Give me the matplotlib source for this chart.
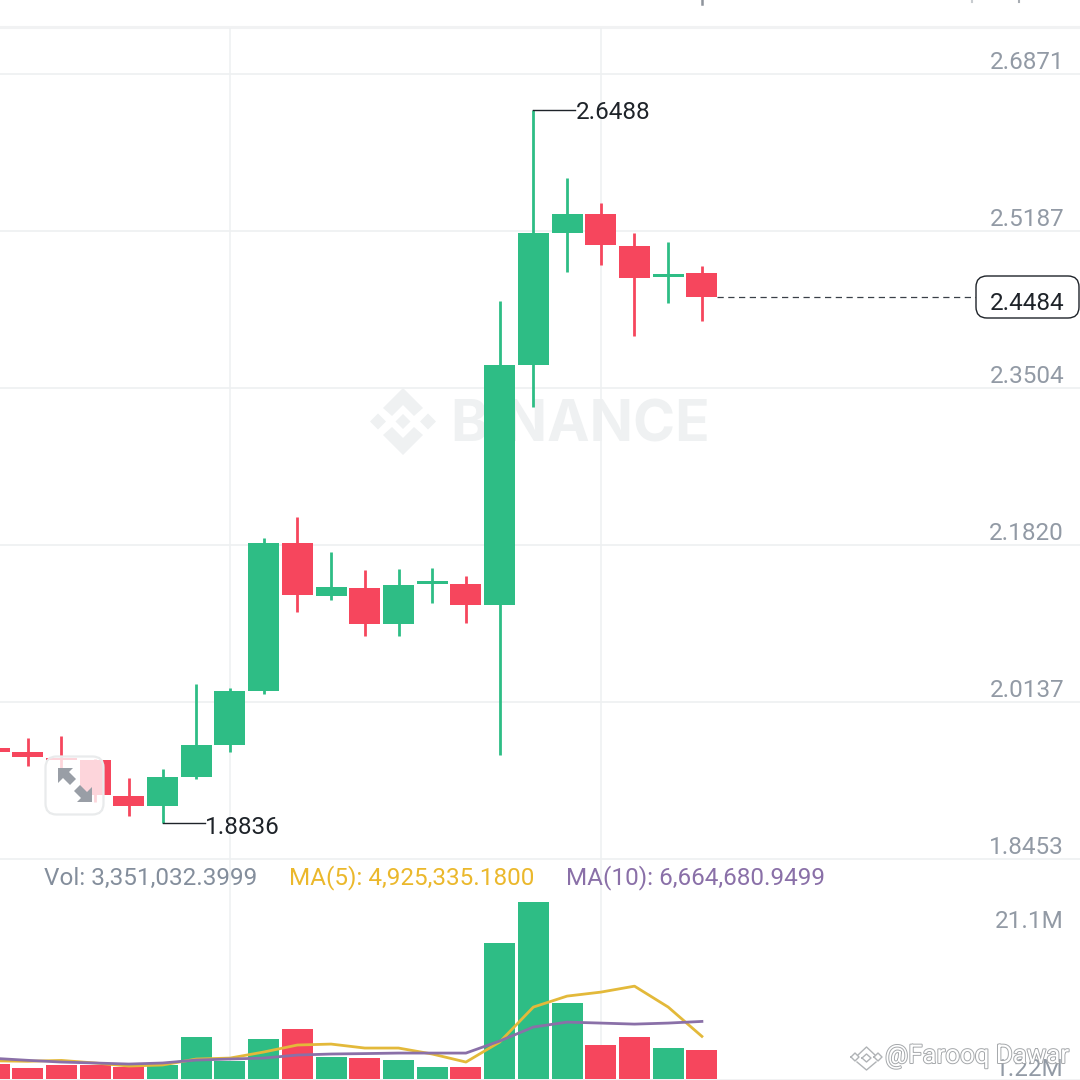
import matplotlib
matplotlib.use("Agg")
import matplotlib.pyplot as plt
import matplotlib.patheffects as pe
from matplotlib.patches import FancyBboxPatch, Polygon

# ---- data ----
opens  = [1.9643,1.9600,1.9535,1.9514,1.9128,1.9021,1.9332,1.9675,2.0254,2.1841,2.1273,2.1359,2.0973,2.1401,2.1401,2.1176,2.3750,2.5166,2.5369,2.5026,2.4694,2.4737]
closes = [1.9600,1.9546,1.9514,1.9139,1.9021,1.9332,1.9675,2.0254,2.1841,2.1283,2.1369,2.0973,2.1391,2.1434,2.1176,2.3750,2.5166,2.5369,2.5037,2.4683,2.4726,2.4484]
highs  = [1.9680,1.9750,1.9771,1.9530,1.9321,1.9418,2.0329,2.0286,2.1895,2.2120,2.1745,2.1552,2.1562,2.1573,2.1487,2.4436,2.6488,2.5755,2.5487,2.5166,2.5069,2.4812]
lows   = [1.9600,1.9450,1.9400,1.9064,1.8913,1.8836,1.9310,1.9600,2.0222,2.1101,2.1230,2.0844,2.0844,2.1198,2.0983,1.9568,2.3300,2.4747,2.4822,2.4061,2.4415,2.4222]
volumes = [1.73,1.27,1.62,1.62,1.39,1.62,4.85,2.08,4.62,5.78,2.54,2.43,2.19,1.39,1.39,15.71,20.44,8.78,3.93,4.85,3.58,3.35]
ma5  = [2.10,2.05,2.15,1.85,1.50,1.62,2.31,2.42,3.12,3.93,4.04,3.58,3.58,2.89,1.96,4.27,8.32,9.59,10.05,10.74,8.32,4.93]
ma10 = [2.39,2.16,1.96,1.85,1.73,1.85,2.19,2.31,2.42,2.77,2.89,2.94,3.00,3.00,3.00,4.39,6.01,6.58,6.47,6.35,6.47,6.66]
price_ticks = [2.6871,2.5187,2.3504,2.1820,2.0137,1.8453]
vgrid_idx = [7,18]
last_price = 2.4484
GREEN, RED = "#2EBD85", "#F6465D"
GRID = "#EEF0F1"
TICK = "#929AA5"
DARK = "#1E2329"
FONT = "Roboto"
FS = 17.5

W = 1080
plt.rcParams["font.family"] = [FONT, "DejaVu Sans"]
fig = plt.figure(figsize=(10.8,10.8), dpi=100, facecolor="white")
PX0, STEP = -6.0, 33.71
xlim = ((0-PX0)/STEP, (W-PX0)/STEP)

def axes_px(top, bottom):
    a = fig.add_axes([0, 1-bottom/W, 1, (bottom-top)/W], facecolor="none")
    a.set_xlim(*xlim)
    a.axis("off")
    return a

ax = axes_px(28, 859)
ax.set_ylim(1.8453, 2.5187+(231-28)*0.0010724)
vax = axes_px(859, 1079)
vax.set_ylim(0, 25.45)
ov = fig.add_axes([0,0,1,1], facecolor="none", zorder=10)
ov.set_xlim(0,W); ov.set_ylim(W,0); ov.axis("off")
bg = fig.add_axes([0,0,1,1], facecolor="none", zorder=-5)
bg.set_xlim(0,W); bg.set_ylim(W,0); bg.axis("off")

# page strips
bg.axhline(27, color="#F1F2F3", lw=2.2)
bg.axhspan(1079, 1080, color="#F1F2F3", lw=0)
bg.plot([702,702],[0,4],color="#8E949C",lw=1.8)
bg.plot([972,972],[0,1.5],color="#C8CCD0",lw=1.5)
bg.plot([1019,1019],[0,1.5],color="#A8ADB3",lw=1.5)

# grid
for p in price_ticks:
    ax.axhline(p, color=GRID, lw=1.2, zorder=1, clip_on=False)
for i in vgrid_idx:
    ax.axvline(i, color=GRID, lw=1.1, zorder=1)
    vax.axvline(i, color=GRID, lw=1.1, zorder=1)

# watermark
col = "#EFF1F2"
def diamond(cx, cy, r, **k):
    bg.add_patch(Polygon([(cx-r,cy),(cx,cy-r),(cx+r,cy),(cx,cy+r)], closed=True, lw=0, **k))
diamond(403,421.5,7.5,color=col)
diamond(378,421.5,8,color=col)
diamond(428,421.5,8,color=col)
bg.add_patch(Polygon([(403,388),(423,408),(414,416),(403,405),(392,416),(383,408)],closed=True,lw=0,color=col))
bg.add_patch(Polygon([(403,455),(423,435),(414,427),(403,438),(392,427),(383,435)],closed=True,lw=0,color=col))
bg.text(450,421,"BINANCE",fontsize=41,fontweight="bold",color=col,family="Inter",va="center_baseline",ha="left")

# candles
for i,(o,c,h,l) in enumerate(zip(opens,closes,highs,lows)):
    color = GREEN if c>=o else RED
    ax.vlines(i,l,h,color=color,lw=2.0,zorder=3)
    ax.bar(i,abs(c-o),bottom=min(o,c),width=0.92,color=color,lw=0,zorder=4)

# volume
vcolors = [GREEN if c>=o else RED for o,c in zip(opens,closes)]
vax.bar(range(len(volumes)),volumes,width=0.92,color=vcolors,lw=0,zorder=2)
vax.plot(range(len(ma5)),ma5,color="#E3B93A",lw=2,zorder=3,solid_joinstyle="round")
vax.plot(range(len(ma10)),ma10,color="#8A70A8",lw=2,zorder=4,solid_joinstyle="round")

# price tick labels
for p in price_ticks:
    ax.annotate(f"{p:.4f}",xy=(1,p),xycoords=("axes fraction","data"),xytext=(-11.5,8.6),
                textcoords="offset points",ha="right",va="center",fontsize=FS,color=TICK)
ov.text(1064,921,"21.1M",ha="right",va="center",fontsize=FS,color=TICK)
ov.text(1064,1069,"1.22M",ha="right",va="center",fontsize=FS,color=TICK)

# high / low callouts
hi = max(highs); lo = min(lows)
hi_i, lo_i = highs.index(hi), lows.index(lo)
ax.plot([hi_i,hi_i+1.25],[hi,hi],color=DARK,lw=1,zorder=5)
ax.annotate(f"{hi:.4f}",xy=(hi_i+1.25,hi-0.0033),ha="left",va="center",fontsize=FS,color=DARK,zorder=6,annotation_clip=False)
ax.plot([lo_i,lo_i+1.25],[lo,lo],color=DARK,lw=1,zorder=5)
ax.annotate(f"{lo:.4f}",xy=(lo_i+1.25,lo-0.0043),ha="left",va="center",fontsize=FS,color=DARK,zorder=6,annotation_clip=False)

# last price
ax.plot([len(closes)-1+0.46,(976-PX0)/STEP],[last_price,last_price],color="#3a4048",lw=0.9,dashes=(5,3.6),zorder=5)
ov.add_patch(FancyBboxPatch((986,286),83,22,boxstyle="round,pad=10,rounding_size=11",fc="white",ec=DARK,lw=1,zorder=5))
ov.text(1027.5,303,f"{last_price:.4f}",ha="center",va="center",fontsize=FS,color=DARK,zorder=6)

# legend row
ov.text(44,878,"Vol: 3,351,032.3999",ha="left",va="center",fontsize=FS,color="#848E9C")
ov.text(289,878,"MA(5): 4,925,335.1800",ha="left",va="center",fontsize=FS,color="#EBB82C")
ov.text(566,878,"MA(10): 6,664,680.9499",ha="left",va="center",fontsize=FS,color="#8A70A8")

# expand button
ov.add_patch(FancyBboxPatch((56,767),37,37,boxstyle="round,pad=10.5,rounding_size=11",fc=(1,1,1,0.78),ec="#E9EBEC",lw=1.6,zorder=7))
arrow = "#999EA6"
ov.add_patch(Polygon([(58,768),(73,768),(69,772),(76,779),(70,785),(63,778),(58,783)],closed=True,fc=arrow,lw=0,zorder=8))
ov.add_patch(Polygon([(92,802),(77,802),(81,798),(74,791),(80,785),(87,792),(92,787)],closed=True,fc=arrow,lw=0,zorder=8))

# author mark
effects=[pe.withStroke(linewidth=1.4,foreground="#A5A8AB")]
ov.text(885,1056,"@Farooq Dawar",ha="left",va="center",fontsize=18.6,color="white",path_effects=effects,zorder=9)
mk = dict(color="#B0B3B6",lw=1,zorder=9)
ov.plot([858,866.5,875],[1055,1047,1055],**mk)
ov.plot([851,855,859,855,851],[1057,1053,1057,1061,1057],**mk)
ov.plot([874,878,882,878,874],[1057,1053,1057,1061,1057],**mk)
ov.plot([862,866.5,871,866.5,862],[1058,1054,1058,1062,1058],**mk)
ov.plot([857,866.5,876],[1062,1070,1062],**mk)

fig.savefig("out.png",dpi=100)
